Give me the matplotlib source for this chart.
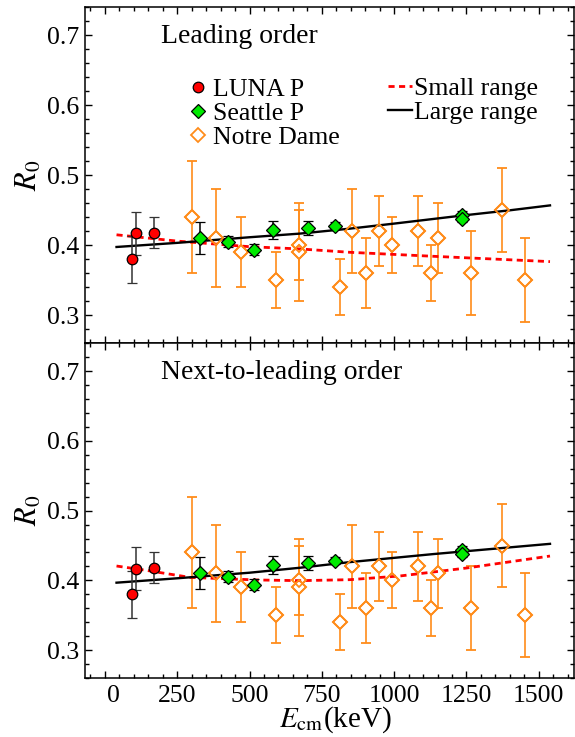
import matplotlib
matplotlib.use("Agg")
import matplotlib.pyplot as plt
from matplotlib.lines import Line2D
from matplotlib.ticker import MultipleLocator
from matplotlib.transforms import ScaledTranslation

plt.rcParams["font.family"] = ["Liberation Serif", "DejaVu Serif"]
plt.rcParams["mathtext.fontset"] = "stix"

# ---- data -------------------------------------------------------------
luna_E = [93, 106, 170]
luna_R = [0.380, 0.417, 0.418]
luna_err = [0.034, 0.031, 0.022]

seattle_E = [327, 424, 515, 580, 701, 795, 1235, 1235]
seattle_R = [0.410, 0.405, 0.394, 0.422, 0.425, 0.428, 0.443, 0.438]
seattle_err = [0.023, 0.008, 0.008, 0.013, 0.010, 0.005, 0.006, 0.005]

nd_E = [302, 383, 472, 591, 670, 670, 813, 853, 901, 949, 992, 1082, 1127,
        1153, 1266, 1373, 1451]
nd_R = [0.44, 0.41, 0.39, 0.35, 0.40, 0.39, 0.34, 0.42, 0.36, 0.42, 0.40,
        0.42, 0.36, 0.41, 0.36, 0.45, 0.35]
nd_err = [0.08, 0.07, 0.05, 0.04, 0.05, 0.07, 0.04, 0.06, 0.05, 0.05, 0.04,
          0.05, 0.04, 0.05, 0.06, 0.06, 0.06]

# fitted curves, leading order
lo_large_E = [40, 250, 500, 674, 847, 1000, 1235, 1400, 1539]
lo_large_R = [0.3976, 0.4035, 0.4115, 0.4167, 0.4238, 0.4310, 0.4425, 0.4500, 0.4570]
lo_small_E = [40, 250, 500, 674, 847, 1135, 1539]
lo_small_R = [0.4150, 0.4060, 0.3980, 0.3948, 0.3900, 0.3843, 0.3767]

# fitted curves, next-to-leading order
nlo_large_E = [40, 250, 500, 674, 847, 1135, 1539]
nlo_large_R = [0.3967, 0.4030, 0.4110, 0.4181, 0.4262, 0.4377, 0.4524]
nlo_small_E = [40, 144, 294, 525, 674, 847, 1020, 1250, 1539]
nlo_small_R = [0.4206, 0.4143, 0.4043, 0.4006, 0.3996, 0.4010, 0.4063, 0.4177, 0.4349]

panel_titles = ["Leading order", "Next-to-leading order"]
x_ticks = [0, 250, 500, 750, 1000, 1250, 1500]
y_ticks = [0.3, 0.4, 0.5, 0.6, 0.7]

# ---- style ------------------------------------------------------------
ORANGE = (1.0, 0.55, 0.10)
RED = (1.0, 0.0, 0.0)
GREEN = (0.0, 0.92, 0.0)
FS = 18.5
MS_D = 6.8
MS_O = 7.6

W, H = 575, 737
fig = plt.figure(figsize=(W / 100, H / 100), dpi=100)

left, right = 85 / W, 574 / W
ax_top = fig.add_axes([left, 1 - 343.3 / H, right - left, (343.3 - 7.3) / H])
ax_bot = fig.add_axes([left, 1 - 678 / H, right - left, (678 - 343.3) / H])

curves = [(lo_large_E, lo_large_R, lo_small_E, lo_small_R),
          (nlo_large_E, nlo_large_R, nlo_small_E, nlo_small_R)]

for ax, title, (lE, lR, sE, sR) in zip([ax_top, ax_bot], panel_titles, curves):
    # Notre Dame
    ax.errorbar(nd_E, nd_R, yerr=nd_err, fmt="D", ms=MS_D, mfc="white",
                mec=ORANGE, mew=1.3, ecolor=ORANGE, elinewidth=1.2,
                capsize=3.4, capthick=1.2, zorder=2)
    ax.plot(nd_E, nd_R, "D", ms=MS_D, mfc="none", mec=ORANGE, mew=1.3, zorder=5)
    # fits
    ax.plot(sE, sR, color=RED, lw=2.0, dashes=(2.2, 1.6), zorder=3)
    ax.plot(lE, lR, color="black", lw=1.7, zorder=3)
    # LUNA
    ax.errorbar(luna_E, luna_R, yerr=luna_err, fmt="o", ms=MS_O, mfc=RED,
                mec="black", mew=0.9, ecolor="0.2", elinewidth=1.1,
                capsize=3.4, capthick=1.1, zorder=6)
    # Seattle
    ax.errorbar(seattle_E, seattle_R, yerr=seattle_err, fmt="D", ms=MS_D,
                mfc=GREEN, mec="black", mew=0.9, ecolor="black",
                elinewidth=1.1, capsize=3.4, capthick=1.1, zorder=6)

    ax.set_xlim(-69, 1622)
    ax.set_ylim(0.26, 0.74)
    ax.set_xticks(x_ticks)
    ax.set_yticks(y_ticks)
    ax.xaxis.set_minor_locator(MultipleLocator(50))
    ax.yaxis.set_minor_locator(MultipleLocator(0.02))
    ax.tick_params(which="both", direction="in", top=True, right=True,
                   width=1.0, labelsize=FS, pad=4)
    ax.tick_params(which="major", length=5)
    ax.tick_params(which="minor", length=2.8)
    ax.set_yticklabels([f"{v:.1f}" for v in y_ticks])
    for s in ax.spines.values():
        s.set_linewidth(1.1)

    ax.text(0.156, 0.913, title, transform=ax.transAxes, fontsize=20,
            va="center", ha="left")
    ax.set_ylabel(r"$R_0$", fontsize=22)
    ax.yaxis.set_label_coords((44 - 85) / 489, 0.5)

ax_top.tick_params(labelbottom=False)
ax_bot.set_xticklabels([str(v) for v in x_ticks])
ax_bot.tick_params(axis="x", pad=5)
ax_bot.set_xlabel(r"$E_{\rm cm}$(keV)", fontsize=21)
ax_bot.xaxis.set_label_coords(0.512, -0.080)

# the "0" label sits a little right of its tick
zero_label = ax_bot.get_xticklabels()[0]
zero_label.set_transform(zero_label.get_transform()
                         + ScaledTranslation(8 / 100, 0, fig.dpi_scale_trans))

# legends
point_handles = [
    Line2D([], [], ls="none", marker="o", ms=MS_O, mfc=RED, mec="black", mew=0.9),
    Line2D([], [], ls="none", marker="D", ms=MS_D, mfc=GREEN, mec="black", mew=0.9),
    Line2D([], [], ls="none", marker="D", ms=MS_D, mfc="white", mec=ORANGE, mew=1.3),
]
leg1 = ax_top.legend(point_handles, ["LUNA P", "Seattle P", "Notre Dame"],
                     loc="upper left", bbox_to_anchor=(0.2153, 0.790),
                     frameon=False, fontsize=FS, borderpad=0, borderaxespad=0,
                     handlelength=0.6, handletextpad=0.3, labelspacing=0.05)
ax_top.add_artist(leg1)
line_handles = [
    Line2D([], [], color=RED, lw=2.0, dashes=(2.2, 1.6)),
    Line2D([], [], color="black", lw=1.7),
]
ax_top.legend(line_handles, ["Small range", "Large range"],
              loc="upper left", bbox_to_anchor=(0.6196, 0.793),
              frameon=False, fontsize=FS, borderpad=0, borderaxespad=0,
              handlelength=0.95, handletextpad=0.05, labelspacing=0.05)

fig.savefig("out.png", dpi=100)
